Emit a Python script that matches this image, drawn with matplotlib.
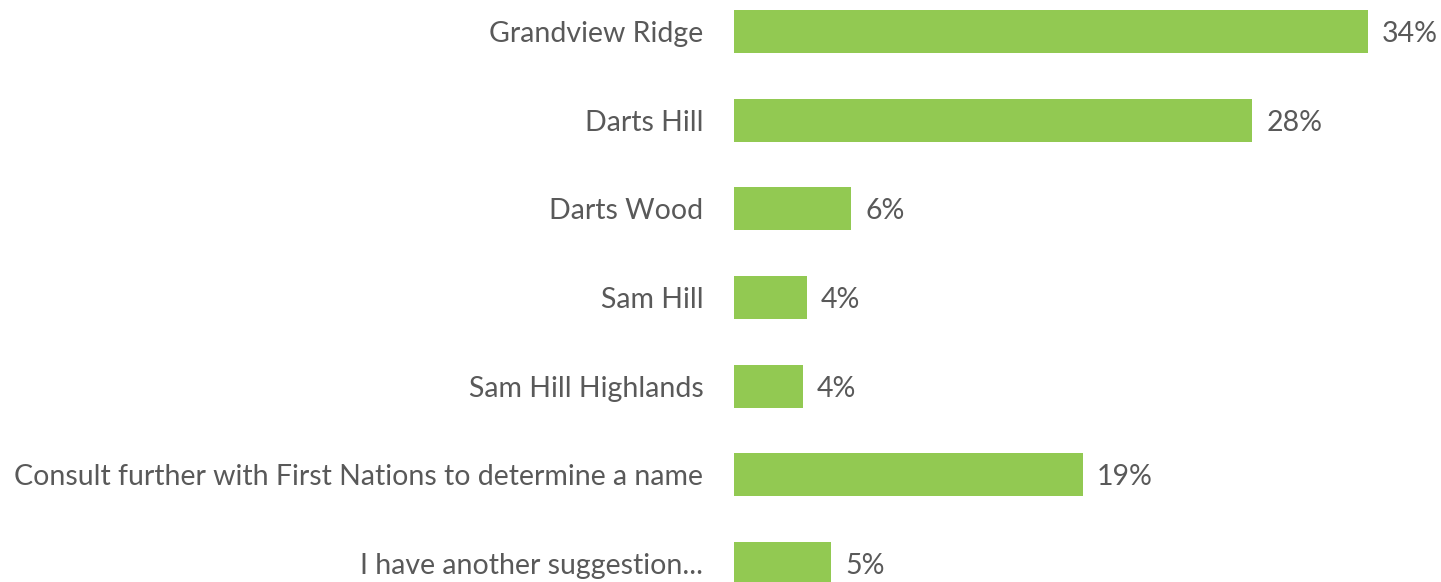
import matplotlib
matplotlib.use("Agg")
import matplotlib.pyplot as plt

categories = [
    "Grandview Ridge",
    "Darts Hill",
    "Darts Wood",
    "Sam Hill",
    "Sam Hill Highlands",
    "Consult further with First Nations to determine a name",
    "I have another suggestion...",
]
values = [34.0, 27.8, 6.3, 3.9, 3.7, 18.7, 5.2]
labels = ["34%", "28%", "6%", "4%", "4%", "19%", "5%"]

green = "#92C952"
text_col = "#595959"

plt.rcParams['font.family'] = ['Lato', 'DejaVu Sans']

fig = plt.figure(figsize=(14.41, 5.82), dpi=100)
ax = fig.add_axes([734 / 1441, 0, 1 - 734 / 1441, 1])

ypos = list(range(len(categories)))
ax.barh(ypos, values, height=0.486, color=green)

# value labels just right of each bar
for y, v, lab in zip(ypos, values, labels):
    ax.text(v + 0.75, y + 0.03, lab, va='center', ha='left', fontsize=20.5, color=text_col)

ax.set_yticks(ypos)
ax.set_yticklabels(categories, fontsize=20.5, color=text_col)
ax.tick_params(axis='y', length=0, pad=22)
ax.set_xticks([])
ax.set_xlim(0, (1441 - 734) / 18.65)
ax.set_ylim(6.209, -0.355)
for s in ax.spines.values():
    s.set_visible(False)

fig.savefig("out.png", dpi=100)
